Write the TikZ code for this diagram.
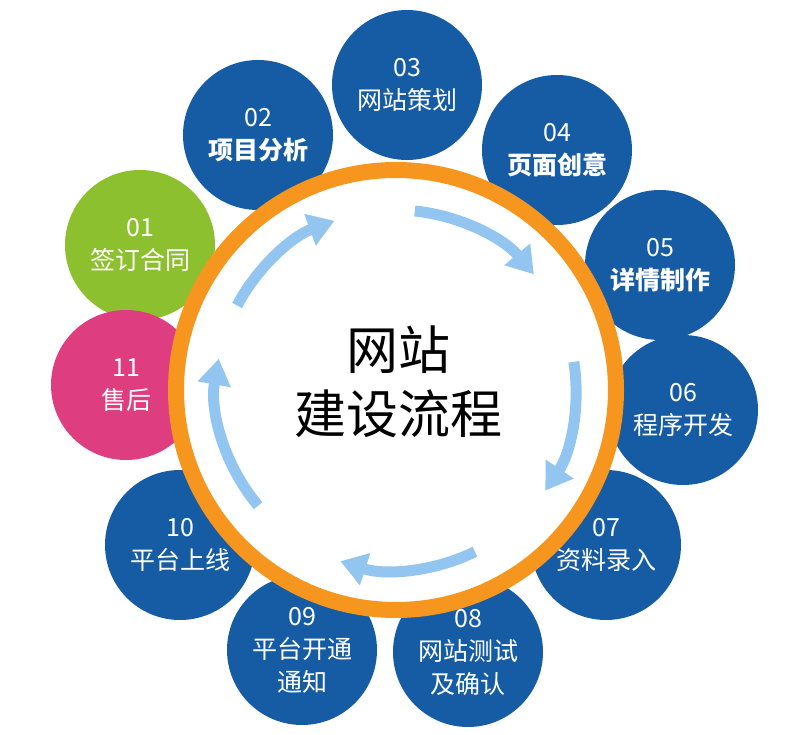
\documentclass[tikz,border=0pt]{standalone}
\usepackage{fontspec}
\setmainfont{Noto Sans CJK SC}
\usetikzlibrary{arrows.meta}
\definecolor{stepblue}{RGB}{22,92,164}
\definecolor{stepgreen}{RGB}{140,192,46}
\definecolor{steppink}{RGB}{222,62,128}
\definecolor{ringorange}{RGB}{246,150,30}
\definecolor{arrowblue}{RGB}{146,198,240}
\tikzset{
  stepdisc/.style={circle,minimum size=150pt,inner sep=0pt,fill=stepblue,text=white,align=center,font=\fontsize{25}{33}\selectfont},
  flowarrow/.style={draw=arrowblue,line width=11pt,-{Triangle[length=26pt,width=32pt]}}
}
\begin{document}
\begin{tikzpicture}[x=1pt,y=1pt]
				\useasboundingbox (0,0) rectangle (787,734);
				\node[stepdisc,fill=stepgreen] (c01) at (140,489) {01\\签订合同};
				\node[stepdisc,fill=steppink] (c11) at (126,349) {11\\售后};
				\node[stepdisc] (c02) at (258,599) {02\\\textbf{项目分析}};
				\node[stepdisc] (c03) at (407,649) {03\\网站策划};
				\node[stepdisc] (c04) at (557,584) {04\\\textbf{页面创意}};
				\node[stepdisc] (c05) at (660,469) {05\\\textbf{详情制作}};
				\node[stepdisc] (c06) at (683,324) {06\\程序开发};
				\node[stepdisc] (c07) at (606,189) {07\\资料录入};
				\node[stepdisc] (c08) at (468,82) {08\\网站测试\\及确认};
				\node[stepdisc] (c09) at (302,84) {09\\平台开通\\通知};
				\node[stepdisc] (c10) at (180,189) {10\\平台上线};
				% ring
				\coordinate (O) at (396,344);
				\draw[ringorange,line width=16pt,fill=white] (O) circle (220);
				% arrows
				\draw[flowarrow] ([shift={(152:180)}]O) arc (152:110:180);
				\draw[flowarrow] ([shift={(84:180)}]O) arc (84:40:180);
				\draw[flowarrow] ([shift={(9:180)}]O) arc (9:-34:180);
				\draw[flowarrow] ([shift={(-64:180)}]O) arc (-64:-108:180);
				\draw[flowarrow] ([shift={(-140:180)}]O) arc (-140:-190:180);
				\node[align=center,font=\fontsize{52}{64}\selectfont] (title) at (398,352) {网站\\建设流程};
			\end{tikzpicture}
\end{document}
